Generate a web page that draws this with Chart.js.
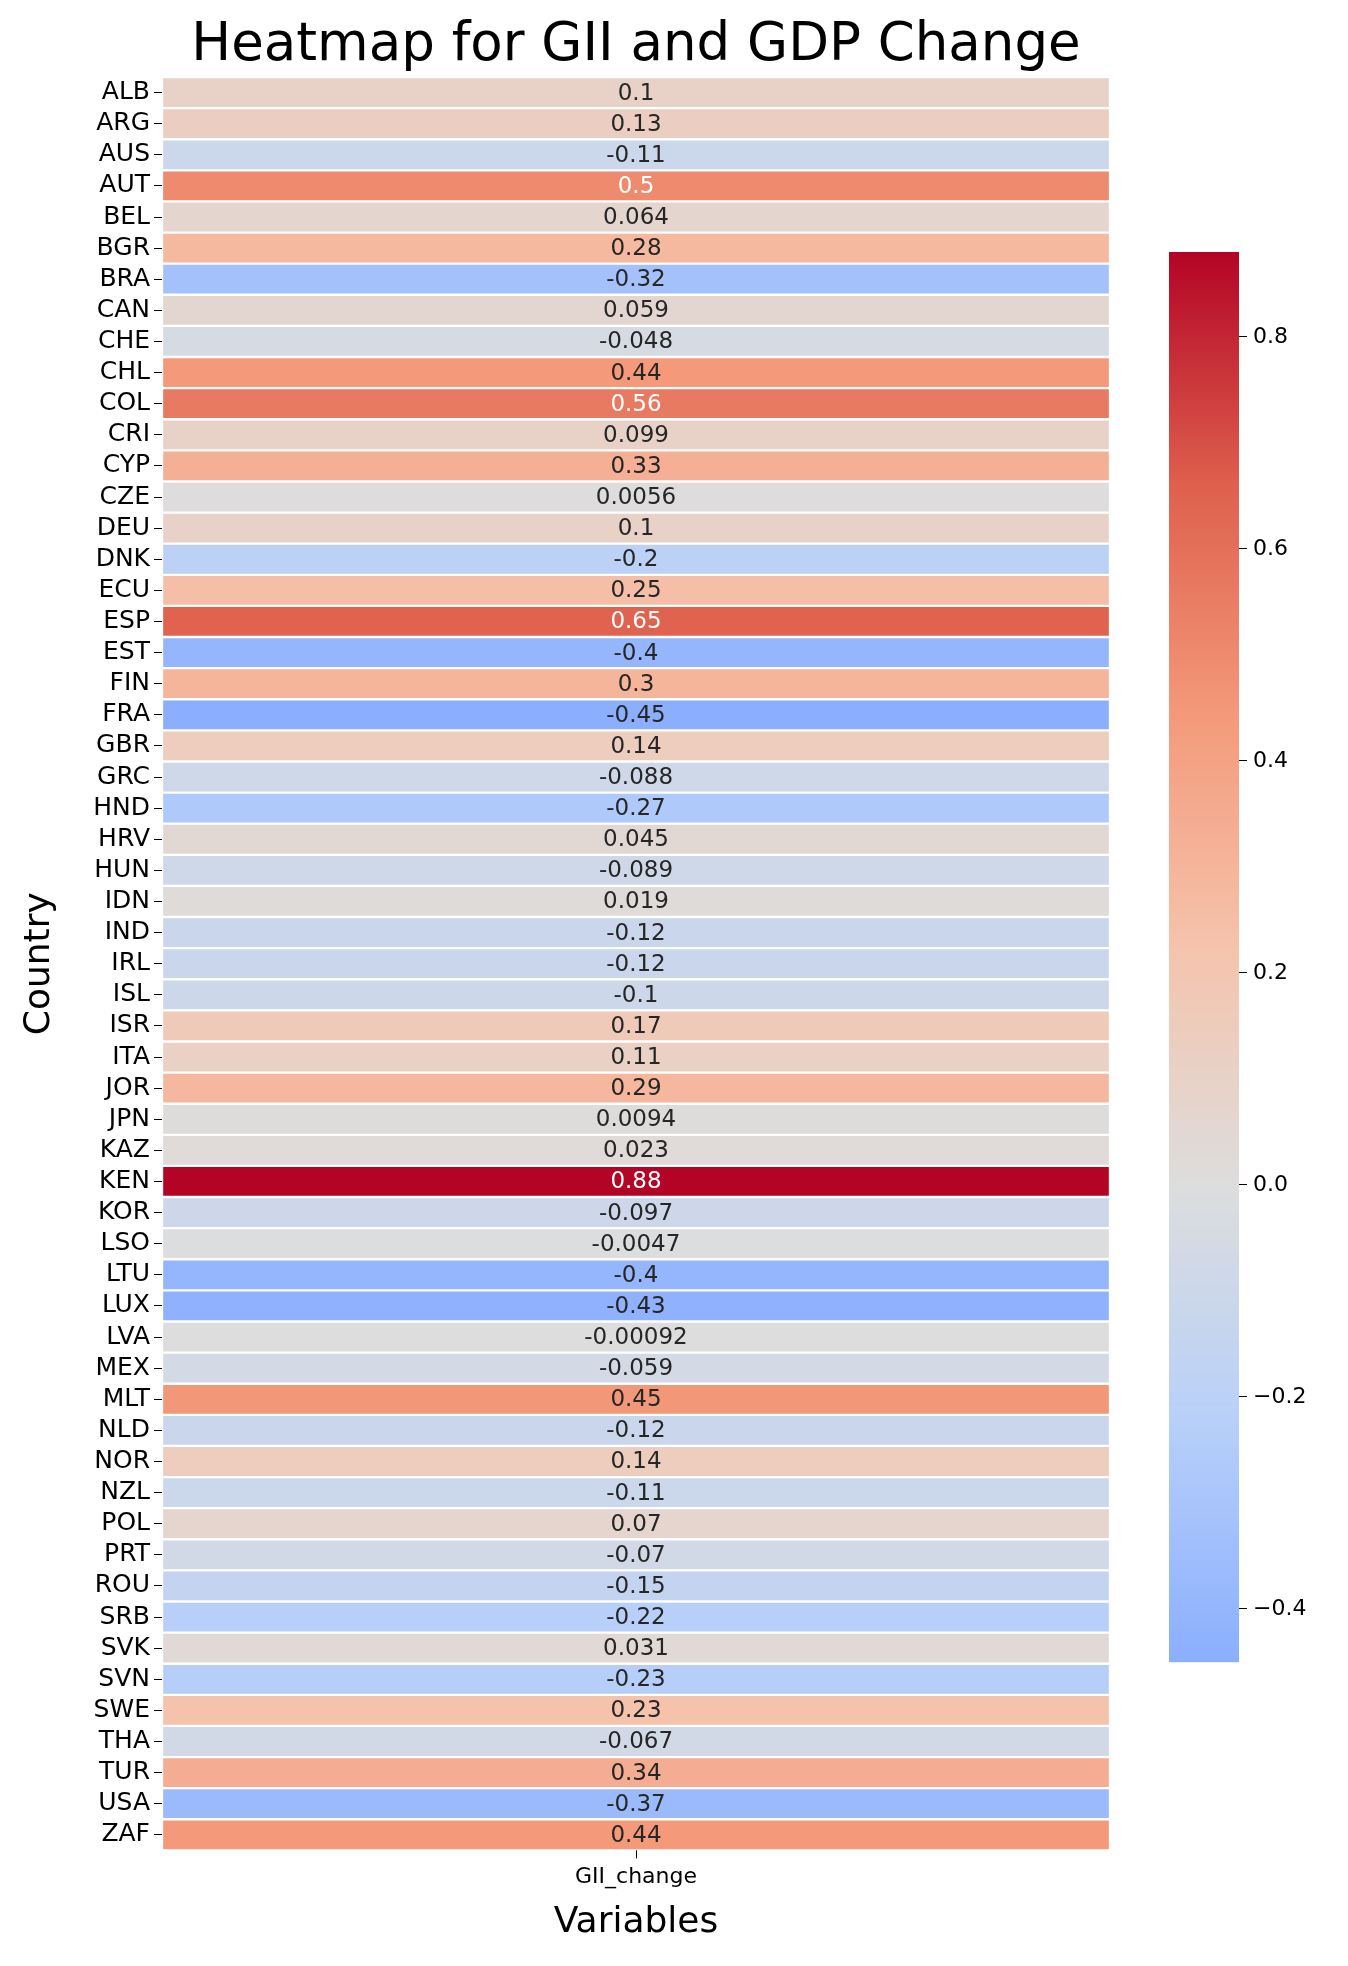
<!DOCTYPE html>
<html><head><meta charset="utf-8">
<script src="https://cdn.jsdelivr.net/npm/chart.js@4"></script>
<style>
body { margin: 0; background: #fff; }
#main { position: absolute; left: 0; top: 0; }
#bar { position: absolute; left: 1100px; top: 0; }
</style></head>
<body>
<canvas id="main" width="1140" height="1966"></canvas>
<canvas id="bar" width="248" height="1966"></canvas>
<script>
var countries = ['ALB','ARG','AUS','AUT','BEL','BGR','BRA','CAN','CHE','CHL','COL','CRI','CYP','CZE','DEU','DNK','ECU','ESP','EST','FIN','FRA','GBR','GRC','HND','HRV','HUN','IDN','IND','IRL','ISL','ISR','ITA','JOR','JPN','KAZ','KEN','KOR','LSO','LTU','LUX','LVA','MEX','MLT','NLD','NOR','NZL','POL','PRT','ROU','SRB','SVK','SVN','SWE','THA','TUR','USA','ZAF'];
var labels = ['0.1','0.13','-0.11','0.5','0.064','0.28','-0.32','0.059','-0.048','0.44','0.56','0.099','0.33','0.0056','0.1','-0.2','0.25','0.65','-0.4','0.3','-0.45','0.14','-0.088','-0.27','0.045','-0.089','0.019','-0.12','-0.12','-0.1','0.17','0.11','0.29','0.0094','0.023','0.88','-0.097','-0.0047','-0.4','-0.43','-0.00092','-0.059','0.45','-0.12','0.14','-0.11','0.07','-0.07','-0.15','-0.22','0.031','-0.23','0.23','-0.067','0.34','-0.37','0.44'];
var giiChange = labels.map(Number);
var cbarTicks = [-0.4, -0.2, 0, 0.2, 0.4, 0.6, 0.8];

var cw = [[0,59,76,192],[0.125,98,130,234],[0.25,141,176,254],[0.375,184,208,249],[0.5,221,221,221],[0.625,245,196,173],[0.75,244,154,123],[0.875,222,96,77],[1,180,4,38]];
function coolwarm(v) {
    var t = Math.max(0, Math.min(1, (v + 0.88) / 1.76));
    for (var i = 1; i < cw.length; i++) {
        if (t <= cw[i][0]) {
            var a = cw[i-1], b = cw[i], f = (t - a[0]) / (b[0] - a[0]);
            return 'rgb(' + [1,2,3].map(function(k){ return Math.round(a[k] + (b[k]-a[k])*f); }).join(',') + ')';
        }
    }
    return 'rgb(180,4,38)';
}

var font = "'DejaVu Sans', sans-serif";

// cell values plus the title, centred over the heatmap like seaborn does
var annotate = {
    id: 'annotate',
    afterDatasetsDraw: function(chart) {
        var ctx = chart.ctx, x = chart.scales.x, y = chart.scales.y, a = chart.chartArea;
        ctx.save();
        ctx.font = '23px ' + font;
        ctx.textAlign = 'center';
        ctx.textBaseline = 'middle';
        giiChange.forEach(function(v, i) {
            ctx.fillStyle = v > 0.47 ? '#ffffff' : '#262626';
            ctx.fillText(labels[i], x.getPixelForValue(0.5), y.getPixelForValue(i) + 1);
        });
        ctx.fillStyle = '#000';
        ctx.font = '53px ' + font;
        ctx.textBaseline = 'alphabetic';
        ctx.fillText('Heatmap for GII and GDP Change', (a.left + a.right) / 2, 60);
        ctx.restore();
    }
};

new Chart(document.getElementById('main'), {
    type: 'bar',
    data: {
        labels: countries,
        datasets: [{
            data: giiChange.map(function(){ return [0, 1]; }),
            backgroundColor: giiChange.map(coolwarm),
            borderColor: '#ffffff',
            borderWidth: 1.5,
            borderSkipped: false,
            barPercentage: 1,
            categoryPercentage: 1
        }]
    },
    options: {
        indexAxis: 'y',
        responsive: false,
        animation: false,
        layout: { padding: { top: 77, right: 30, bottom: 0, left: 0 } },
        plugins: {
            legend: { display: false },
            tooltip: { enabled: false },
            title: { display: false }
        },
        scales: {
            x: {
                min: 0, max: 1,
                afterBuildTicks: function(s) { s.ticks = [{ value: 0.5 }]; },
                ticks: { callback: function() { return 'GII_change'; }, color: '#000', font: { size: 22, family: font }, padding: 6 },
                grid: { display: true, drawOnChartArea: false, tickLength: 8, color: '#000' },
                border: { display: false },
                title: { display: true, text: 'Variables', color: '#000', font: { size: 36, family: font }, padding: { top: 4, bottom: 22 } }
            },
            y: {
                afterFit: function(s) { s.width = 162; },
                ticks: { color: '#000', font: { size: 25, family: font }, padding: 4, autoSkip: false },
                grid: { display: true, offset: false, drawOnChartArea: false, tickLength: 8, color: '#000' },
                border: { display: false },
                title: { display: true, text: 'Country', color: '#000', font: { size: 36, family: font }, padding: { top: 18, bottom: 0 } }
            }
        }
    },
    plugins: [annotate]
});

var gradient = {
    id: 'gradient',
    beforeDatasetsDraw: function(chart) {
        var a = chart.chartArea, y = chart.scales.y, ctx = chart.ctx;
        for (var p = a.top; p < a.bottom; p++) {
            ctx.fillStyle = coolwarm(y.getValueForPixel(p + 0.5));
            ctx.fillRect(a.left, p, a.right - a.left, 1.2);
        }
    }
};

new Chart(document.getElementById('bar'), {
    type: 'bar',
    data: { labels: [''], datasets: [{ data: [0], backgroundColor: 'transparent' }] },
    options: {
        responsive: false,
        animation: false,
        layout: { padding: { top: 252, bottom: 304, left: 69, right: 0 } },
        plugins: { legend: { display: false }, tooltip: { enabled: false } },
        scales: {
            x: { display: false },
            y: {
                position: 'right',
                min: -0.45, max: 0.88,
                afterFit: function(s) { s.width = 109; },
                afterBuildTicks: function(s) { s.ticks = cbarTicks.map(function(v){ return { value: v }; }); },
                ticks: { color: '#000', font: { size: 22, family: font }, padding: 6,
                    callback: function(v) { return v < 0 ? '\u2212' + Math.abs(v).toFixed(1) : v.toFixed(1); } },
                grid: { display: true, drawOnChartArea: false, tickLength: 8, color: '#000' },
                border: { display: false }
            }
        }
    },
    plugins: [gradient]
});
</script>
</body></html>
